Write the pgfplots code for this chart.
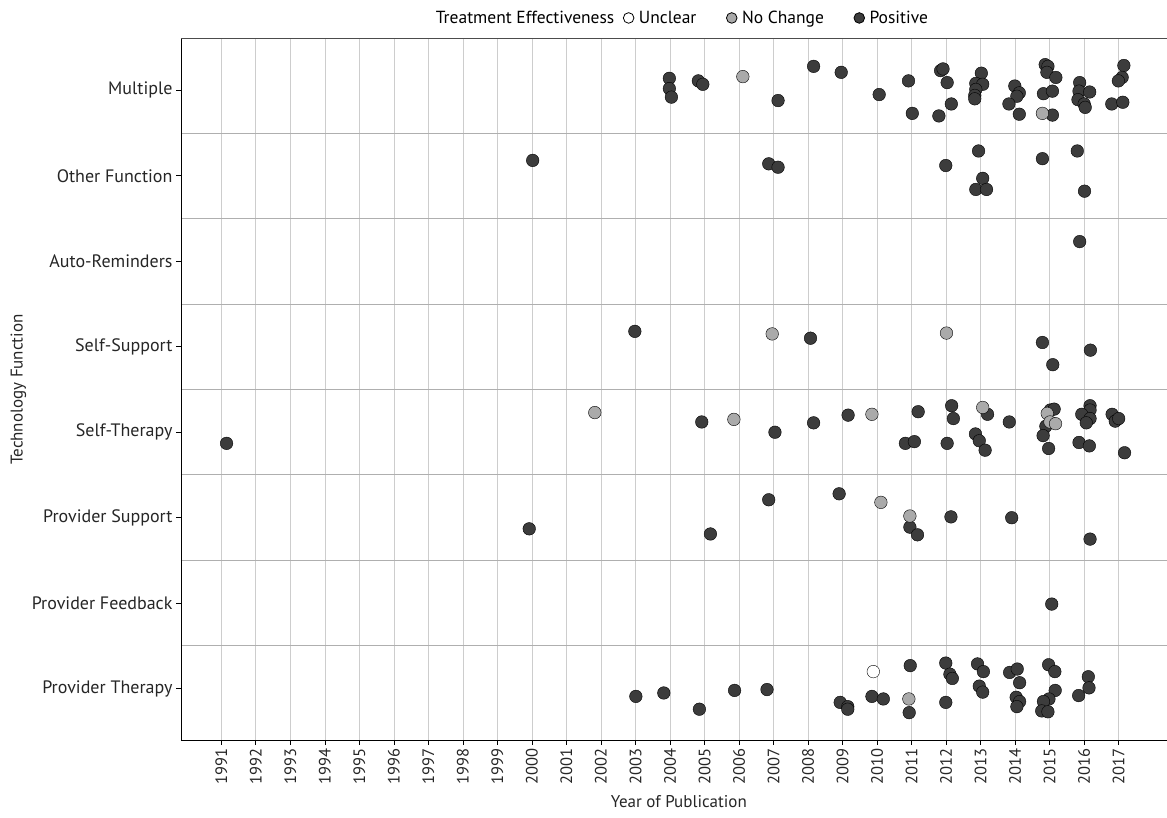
\documentclass[border=0pt]{standalone}
\usepackage{pgfplots}
\pgfplotsset{compat=1.18}
\usepackage{fontspec}
\setmainfont{PT Sans}
\definecolor{pos}{RGB}{60,60,60}
\definecolor{nochg}{RGB}{170,170,170}
\definecolor{vgrid}{RGB}{205,205,205}
\definecolor{hgrid}{RGB}{175,175,175}
\begin{document}
\begin{tikzpicture}
\begin{axis}[
  name=ax,
  scale only axis,
  width=986pt, height=701pt,
  xmin=1989.83, xmax=2018.4,
  ymin=0.4, ymax=8.6,
  axis lines=left,
  axis line style={-, black, line width=0.9pt},
  xtick={1991,1992,...,2017},
  ytick={1,2,...,8},
  yticklabels={Provider Therapy, Provider Feedback, Provider Support, Self-Therapy, Self-Support, Auto-Reminders, Other Function, Multiple},
  minor ytick={1.5,2.5,...,7.5},
  xmajorgrids=true, ymajorgrids=false, yminorgrids=true,
  major grid style={vgrid, line width=0.8pt},
  minor grid style={hgrid, line width=1pt},
  minor tick length=0pt,
  major tick length=5pt,
  tick align=outside,
  tick style={black, line width=0.8pt},
  /pgf/number format/1000 sep={},
  /pgf/number format/assume math mode=true,
  yticklabel style={font=\fontsize{18}{20}\selectfont, text=black!85},
  xticklabel style={font=\fontsize{16.5}{18}\selectfont, text=black!85, rotate=90, anchor=east},
  xlabel={Year of Publication},
  ylabel={Technology Function},
  label style={font=\fontsize{17}{19}\selectfont, text=black!85},
  xlabel style={at={(axis description cs:0.505,-0.088)}, anchor=center},
  ylabel style={at={(axis description cs:-0.165,0.5)}, anchor=center},
  legend columns=4,
  legend style={draw=none, fill=none, font=\fontsize{17.5}{19}\selectfont,
    at={(axis description cs:0.508,1.03)}, anchor=center},
  legend cell align=left,
  every axis plot/.append style={only marks, mark=*, mark size=6.3pt,
    mark options={draw=black, line width=0.8pt}},
  clip=false,
]
\addlegendimage{empty legend}
\addlegendentry{Treatment Effectiveness\rule{7pt}{0pt}}
\addlegendimage{only marks, mark=*, mark size=5.3pt, mark options={draw=black, fill=white, line width=0.8pt}}
\addlegendentry{\rule{3pt}{0pt}Unclear\rule{28pt}{0pt}}
\addlegendimage{only marks, mark=*, mark size=5.3pt, mark options={draw=black, fill=nochg, line width=0.8pt}}
\addlegendentry{\rule{3pt}{0pt}No Change\rule{28pt}{0pt}}
\addlegendimage{only marks, mark=*, mark size=5.3pt, mark options={draw=black, fill=pos, line width=0.8pt}}
\addlegendentry{\rule{3pt}{0pt}Positive}

% Positive
\addplot[mark options={fill=pos}, forget plot] table {
x y
2003.98 8.14
2003.98 8.02
2004.04 7.92
2004.82 8.11
2004.95 8.07
2007.13 7.88
2008.16 8.28
2008.96 8.21
2010.06 7.95
2010.91 8.11
2011.02 7.73
2011.84 8.23
2011.91 8.25
2012.03 8.09
2011.79 7.70
2012.15 7.84
2013.02 8.20
2012.86 8.08
2013.06 8.07
2012.86 8.01
2012.83 7.94
2012.83 7.90
2013.99 8.05
2014.12 7.97
2014.05 7.93
2013.82 7.84
2014.12 7.72
2014.87 8.30
2014.95 8.28
2014.92 8.21
2015.18 8.15
2014.82 7.96
2015.08 7.99
2015.08 7.71
2015.87 8.09
2015.85 7.99
2016.16 7.98
2015.82 7.89
2016.00 7.84
2016.03 7.80
2017.15 8.29
2017.10 8.15
2016.99 8.11
2016.80 7.84
2017.12 7.86
2000.02 7.18
2006.86 7.14
2007.13 7.10
2011.99 7.12
2012.94 7.29
2013.06 6.97
2012.86 6.84
2013.17 6.84
2014.79 7.20
2015.80 7.29
2016.01 6.82
2015.87 6.23
2002.98 5.18
2008.07 5.10
2014.79 5.05
2015.09 4.79
2016.18 4.96
1991.15 3.87
2004.92 4.12
2007.04 4.00
2008.16 4.11
2009.16 4.20
2011.19 4.24
2010.82 3.87
2011.08 3.89
2012.16 4.31
2012.21 4.16
2012.03 3.87
2013.20 4.21
2012.85 3.98
2012.96 3.90
2013.13 3.79
2013.83 4.12
2015.02 4.26
2015.13 4.27
2014.89 4.07
2014.81 3.96
2014.97 3.81
2016.17 4.31
2016.17 4.26
2015.93 4.21
2016.17 4.16
2016.06 4.11
2015.85 3.88
2016.15 3.84
2016.81 4.21
2016.90 4.13
2017.00 4.16
2017.17 3.76
1999.92 2.87
2005.17 2.81
2006.86 3.21
2008.90 3.28
2010.95 2.89
2011.17 2.80
2012.14 3.01
2013.90 3.00
2016.17 2.75
2015.06 1.99
2003.01 0.91
2003.82 0.95
2004.85 0.76
2005.87 0.98
2006.81 0.99
2008.93 0.84
2009.15 0.79
2009.15 0.76
2009.85 0.91
2010.18 0.88
2010.96 1.27
2010.93 0.72
2011.99 1.30
2012.11 1.17
2012.18 1.12
2011.99 0.84
2012.91 1.29
2013.08 1.20
2012.96 1.03
2013.06 0.96
2013.84 1.19
2014.06 1.23
2014.13 1.07
2014.03 0.90
2014.13 0.85
2014.05 0.79
2014.97 1.28
2015.15 1.20
2015.16 0.98
2014.98 0.88
2014.82 0.85
2014.77 0.74
2014.95 0.73
2015.84 0.92
2016.12 1.14
2016.14 1.01
};
% No Change
\addplot[mark options={fill=nochg}, forget plot] table {
x y
2006.11 8.16
2014.79 7.73
2006.96 5.15
2012.01 5.16
2001.82 4.23
2005.85 4.15
2009.85 4.21
2013.06 4.29
2014.93 4.22
2015.01 4.12
2015.17 4.10
2010.11 3.18
2010.95 3.02
2010.92 0.88
};
% Unclear
\addplot[mark options={fill=white}, forget plot] table {
x y
2009.89 1.20
};
\draw[black!70, line width=1pt] (rel axis cs:0,1) -- (rel axis cs:1,1);
\end{axis}
\pgfresetboundingbox
\path[use as bounding box] ([xshift=-181pt,yshift=-78pt]ax.south west) rectangle ([yshift=39pt]ax.north east);
\end{tikzpicture}
\end{document}
